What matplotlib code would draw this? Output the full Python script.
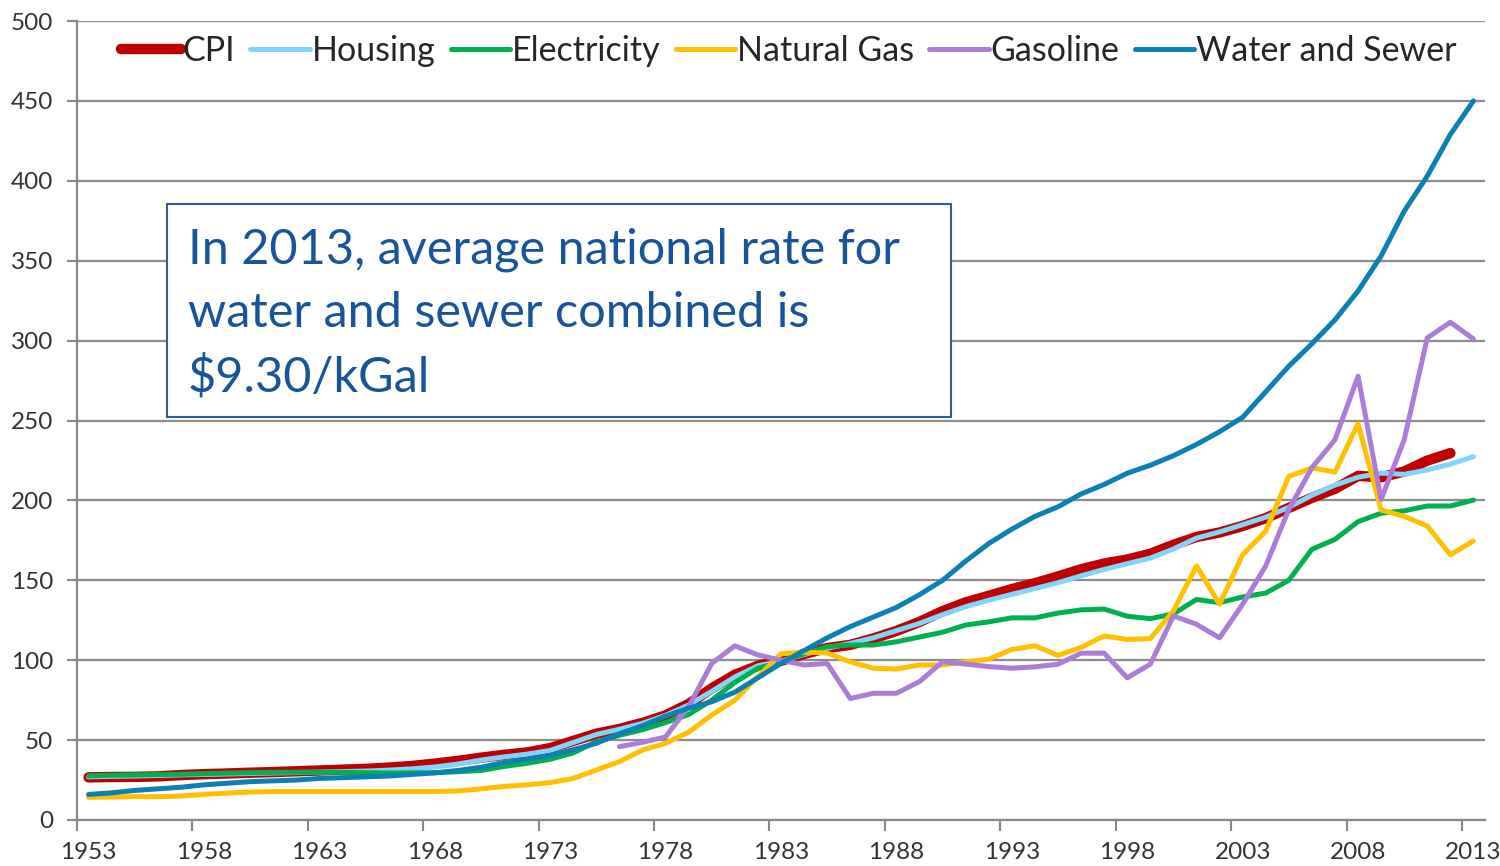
import matplotlib
matplotlib.use('Agg')
import matplotlib.pyplot as plt
import matplotlib.patches as patches
import numpy as np

nan = np.nan

years = list(range(1953, 2014))

cpi = [26.7, 26.9, 27.0, 27.3, 28.1, 28.7, 29.1, 29.6, 30.0, 30.5, 31.0,
       31.5, 32.0, 32.8, 33.8, 35.3, 37.0, 39.0, 40.8, 42.3, 45.0,
       49.5, 54.0, 57.0, 60.8, 65.5, 72.6, 82.4, 90.9, 96.5, 99.6,
       103.9, 107.6, 109.6, 113.6, 118.3, 124.0, 130.7, 136.2, 140.3, 144.5,
       148.2, 152.4, 156.9, 160.5, 163.0, 166.6, 172.2, 177.1, 179.9, 184.0,
       188.9, 195.3, 201.6, 207.3, 215.3, 214.5, 218.1, 224.9, 229.6, nan]

housing = [27.0, 27.3, 27.5, 27.8, 28.2, 28.5, 28.8, 29.1, 29.4, 29.7, 30.0,
           30.3, 30.6, 31.2, 32.0, 33.2, 35.0, 37.5, 39.5, 41.2, 43.5,
           48.5, 53.5, 56.8, 60.5, 65.5, 72.0, 80.5, 89.5, 96.5, 99.5,
           103.5, 107.5, 110.5, 114.0, 118.5, 123.0, 128.5, 133.5, 137.5, 141.2,
           144.8, 148.5, 152.8, 156.8, 160.4, 163.9, 169.6, 176.4, 180.3, 184.8,
           189.5, 195.7, 203.2, 209.6, 214.5, 217.1, 216.3, 219.1, 222.7, 227.4]

electricity = [27.6, 28.0, 28.2, 28.4, 28.6, 29.0, 29.3, 29.6, 29.8, 29.9, 29.9,
               29.8, 29.6, 29.4, 29.5, 29.6, 30.2, 31.0, 33.5, 35.5, 38.0,
               42.0, 49.0, 53.0, 56.5, 61.0, 66.0, 75.0, 86.0, 95.0, 99.0,
               104.0, 108.5, 109.5, 109.5, 111.5, 114.5, 117.5, 122.0, 124.0, 126.5,
               126.5, 129.5, 131.5, 132.0, 127.5, 126.0, 129.0, 138.0, 136.0, 139.6,
               142.0, 150.0, 169.4, 175.6, 186.7, 192.0, 193.5, 196.5, 196.5, 200.2]

natural_gas = [14.2, 14.4, 14.6, 14.6, 15.0, 16.0, 16.8, 17.5, 17.8, 17.8, 17.8,
               17.8, 17.8, 17.8, 17.8, 17.8, 18.2, 19.5, 21.0, 22.0, 23.4,
               26.0, 31.3, 36.5, 43.8, 48.0, 55.0, 65.7, 75.0, 89.7, 104.0,
               105.0, 104.5, 99.0, 95.0, 94.5, 97.0, 97.0, 99.0, 100.6, 106.7,
               109.0, 103.0, 108.0, 115.2, 113.0, 113.5, 130.8, 159.0, 135.0, 166.0,
               180.8, 215.0, 220.4, 217.7, 248.0, 194.0, 190.0, 184.0, 166.0, 174.6]

gasoline = [nan] * 23 + [
            45.9, 48.6, 52.0, 71.0, 98.0, 109.0, 103.3, 100.0,
            97.0, 98.0, 76.0, 79.3, 79.3, 86.6, 99.0, 97.6, 96.0, 95.0,
            95.8, 97.5, 104.4, 104.4, 89.0, 97.5, 127.7, 122.5, 114.0, 135.0,
            159.0, 194.4, 220.4, 238.0, 277.7, 200.6, 238.0, 301.7, 311.5, 301.0]

water_sewer = [16, 17, 18.5, 19.5, 20.5, 22, 23, 24, 24.5, 25, 26,
               26.5, 27, 27.5, 28.5, 29.5, 31, 33, 36, 38, 40.5,
               44, 48, 54, 59, 65, 70, 74, 80, 89, 98,
               106, 114, 121, 127, 133, 141, 150, 162, 173, 182,
               190, 196, 204, 210, 217, 222, 228, 235, 243, 252,
               268, 284, 298, 313, 331, 353, 381, 403, 429, 450]

series_names = ['CPI', 'Housing', 'Electricity', 'Natural Gas', 'Gasoline', 'Water and Sewer']
cores = ['#C00000', '#7FD6FB', '#00B050', '#FFC000', '#AB7DD8', '#0A80B3']
larguras = [7.5, 3.6, 3.6, 3.6, 3.6, 3.6]

note = "In 2013, average national rate for\nwater and sewer combined is\n$9.30/kGal"

plt.rcParams['font.family'] = ['Lato', 'DejaVu Sans']

fig = plt.figure(figsize=(15, 8.66), dpi=100)
ax = fig.add_axes([77 / 1500, 1 - 820 / 866, (1485 - 77) / 1500, (820 - 21) / 866])

todos = [cpi, housing, electricity, natural_gas, gasoline, water_sewer]
for nome, dados, cor, lw in zip(series_names, todos, cores, larguras):
    ax.plot(years, dados, color=cor, lw=lw, label=nome, solid_capstyle='round', solid_joinstyle='round')

ax.set_xlim(1952.5, 2013.5)
ax.set_ylim(0, 500)
ax.set_yticks(range(0, 501, 50))
ax.set_xticks(years[::5])
ax.set_xticks([y - 0.5 for y in years[::5]], minor=True)
ax.tick_params(axis='x', which='major', length=0, labelsize=17.5, colors='#333333', pad=16)
ax.tick_params(axis='x', which='minor', length=8, width=1.5, color='#888888')
ax.tick_params(axis='y', length=7, width=1.5, color='#888888', labelsize=17.5, labelcolor='#333333', pad=10)
ax.grid(axis='y', color='#8C8C8C', lw=1.6)
ax.set_axisbelow(True)
for s in ['top', 'right']:
    ax.spines[s].set_visible(False)
for s in ['left', 'bottom']:
    ax.spines[s].set_color('#888888')
    ax.spines[s].set_linewidth(1.6)

ax.legend(loc='upper center', bbox_to_anchor=(0.5056, 1.012), ncol=6, frameon=False,
          fontsize=24.5, handlelength=1.75, handletextpad=0.05, columnspacing=0.45,
          labelcolor='#262626', borderaxespad=0.3)

# caixa de texto
caixa = patches.Rectangle((167 / 1500, 1 - 417 / 866), 784 / 1500, 213 / 866,
                          transform=fig.transFigure, facecolor='white',
                          edgecolor='#2E5E95', lw=1.5, zorder=5)
fig.patches.append(caixa)
fig.text(188 / 1500, 1 - 227 / 866, note, ha='left', va='top', fontsize=35,
         color='#17549A', linespacing=1.53, zorder=6)

plt.savefig('out.png', dpi=100)
